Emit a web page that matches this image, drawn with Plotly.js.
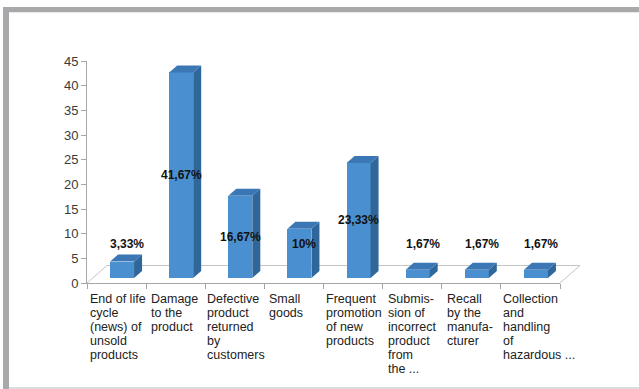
<!DOCTYPE html>
<html>
<head>
<meta charset="utf-8">
<script src="https://cdn.plot.ly/plotly-3.0.1.min.js"></script>
<style>html,body{margin:0;padding:0;background:#fff;}#chart{width:639px;height:389px;}</style>
</head>
<body>
<div id="chart"></div>
<script>
// ---- data ----
const categoryLabels = [
  "End of life<br>cycle<br>(news) of<br>unsold<br>products",
  "Damage<br>to the<br>product",
  "Defective<br>product<br>returned<br>by<br>customers",
  "Small<br>goods",
  "Frequent<br>promotion<br>of new<br>products",
  "Submis-<br>sion of<br>incorrect<br>product<br>from<br>the ...",
  "Recall<br>by the<br>manufa-<br>cturer",
  "Collection<br>and<br>handling<br>of<br>hazardous ..."
];
const values = [3.33, 41.67, 16.67, 10, 23.33, 1.67, 1.67, 1.67];
const valueLabels = ["3,33%", "41,67%", "16,67%", "10%", "23,33%", "1,67%", "1,67%", "1,67%"];
const yTicks = [0, 5, 10, 15, 20, 25, 30, 35, 40, 45];

// ---- geometry / style ----
const W = 639, H = 389;
const PL = 80, PR = 600, PT = 50, PB = 290;      // overall plotting box (px)
const X0 = 87, X1 = 560, Y0 = 283, YTOP = 61;     // front plane of the 3D box
const N = categoryLabels.length;
const YMAX = 45;
const ux = (X1 - X0) / N, uy = (Y0 - YTOP) / YMAX;
const barShift = [5.5, 5];     // bar front face offset into depth (px)
const barDepth = [8, 7];       // bar depth (px)
const floorDepth = [20, 17.5]; // floor depth (px)
const barWidth = 0.406;
const cFront = '#4a8fcf', cTop = '#3b77b4', cSide = '#30679b';
const axisColor = '#a6a6a6', floorColor = '#c4c4c4';
const tickFont = {family: 'Liberation Sans, Arial, sans-serif', size: 13, color: '#3a3a3a'};
const catFont = {family: 'Liberation Sans, Arial, sans-serif', size: 12.5, color: '#222222'};
const lblFont = {family: 'Liberation Sans, Arial, sans-serif', size: 12, color: '#111111', weight: 'bold'};

function xRange(sx) { return [-0.5 + (PL - X0 - sx) / ux, -0.5 + (PR - X0 - sx) / ux]; }
function yRange(sy) { return [(Y0 - sy - PB) / uy, (Y0 - sy - PT) / uy]; }
function px2paperX(p) { return (p - PL) / (PR - PL); }
function px2paperY(p) { return (PB - p) / (PB - PT); }

const idx = values.map((v, i) => i);

// floor outline (left, back, right edges) on x2/y2
const fdx = floorDepth[0] / ux, fdy = floorDepth[1] / uy;
const floorTrace = {
  type: 'scatter', mode: 'lines', xaxis: 'x2', yaxis: 'y2',
  x: [-0.5, -0.5 + fdx, N - 0.5 + fdx, N - 0.5],
  y: [0, fdy, fdy, 0],
  line: {color: floorColor, width: 1}, hoverinfo: 'skip', showlegend: false
};

// bars on x3/y3
const bdx = barDepth[0] / ux, bdy = barDepth[1] / uy, hw = barWidth / 2;
const frontTrace = {
  type: 'bar', xaxis: 'x3', yaxis: 'y3', x: idx, y: values, width: barWidth,
  marker: {color: cFront, line: {width: 0}}, hoverinfo: 'skip', showlegend: false
};
const sx = [], sy = [], tx = [], ty = [];
values.forEach((v, i) => {
  const xl = i - hw, xr = i + hw;
  sx.push(xr, xr + bdx, xr + bdx, xr, xr, null);
  sy.push(0, bdy, v + bdy, v, 0, null);
  tx.push(xl, xr, xr + bdx, xl + bdx, xl, null);
  ty.push(v, v, v + bdy, v + bdy, v, null);
});
const sideTrace = {type: 'scatter', mode: 'lines', xaxis: 'x3', yaxis: 'y3', x: sx, y: sy,
  fill: 'toself', fillcolor: cSide, line: {width: 0, color: cSide}, hoverinfo: 'skip', showlegend: false};
const topTrace = {type: 'scatter', mode: 'lines', xaxis: 'x3', yaxis: 'y3', x: tx, y: ty,
  fill: 'toself', fillcolor: cTop, line: {width: 0, color: cTop}, hoverinfo: 'skip', showlegend: false};

// category labels: one annotation per line, lines left-aligned inside the slot
const canvas = document.createElement('canvas');
const ctx = canvas.getContext('2d');
ctx.font = catFont.size + 'px "Liberation Sans", Arial, sans-serif';
const annotations = [];
categoryLabels.forEach((lab, i) => {
  const lines = lab.split('<br>');
  const maxW = Math.max(...lines.map(l => ctx.measureText(l).width));
  const pad = Math.max(1, Math.min(4, (ux - maxW) / 2));
  lines.forEach((l, j) => {
    annotations.push({
      xref: 'x', yref: 'y', x: i - 0.5, y: 0, text: l, showarrow: false,
      xanchor: 'left', yanchor: 'middle', xshift: pad - 1, yshift: -(16 + j * 14),
      font: catFont, align: 'left'
    });
  });
});
// value labels
values.forEach((v, i) => {
  annotations.push({
    xref: 'x3', yref: 'y3', x: i, y: Math.max(v / 2, 6.9), text: valueLabels[i], showarrow: false,
    xanchor: 'center', yanchor: 'middle', xshift: v / 2 < 6.9 ? 5 : 0, font: lblFont
  });
});

// frame
const shapes = [
  {type: 'rect', xref: 'paper', yref: 'paper', layer: 'below',
   x0: px2paperX(3), x1: px2paperX(W + 5), y0: px2paperY(H + 2), y1: px2paperY(7),
   fillcolor: '#a9a9ab', line: {width: 0}},
  {type: 'rect', xref: 'paper', yref: 'paper', layer: 'below',
   x0: px2paperX(9), x1: px2paperX(W + 5), y0: px2paperY(387), y1: px2paperY(12.3),
   fillcolor: '#ffffff', line: {width: 0}},
  {type: 'rect', xref: 'paper', yref: 'paper', layer: 'below',
   x0: px2paperX(9), x1: px2paperX(W + 5), y0: px2paperY(H + 2), y1: px2paperY(387),
   fillcolor: '#dcdcdc', line: {width: 0}}
];

const hiddenAxis = {showline: false, showgrid: false, zeroline: false, showticklabels: false, ticks: '', fixedrange: true};

const layout = {
  width: W, height: H,
  margin: {l: PL, r: W - PR, t: PT, b: H - PB, pad: 0},
  paper_bgcolor: '#ffffff', plot_bgcolor: 'rgba(0,0,0,0)',
  showlegend: false,
  xaxis: {
    domain: [px2paperX(X0), px2paperX(X1)], range: [-0.5, N - 0.5], anchor: 'y',
    tickvals: idx.concat([N]).map(i => i - 0.5), ticktext: idx.concat([N]).map(() => ''),
    ticks: 'outside', ticklen: 5, tickcolor: axisColor, tickwidth: 1,
    showline: true, linecolor: axisColor, linewidth: 1,
    showgrid: false, zeroline: false, fixedrange: true
  },
  yaxis: {
    domain: [px2paperY(Y0), px2paperY(YTOP)], range: [0, YMAX], anchor: 'x',
    tickvals: yTicks, ticks: 'outside', ticklen: 5, tickcolor: axisColor, tickwidth: 1,
    showline: true, linecolor: axisColor, linewidth: 1, tickfont: tickFont,
    showgrid: false, zeroline: false, fixedrange: true
  },
  xaxis2: Object.assign({domain: [0, 1], range: xRange(0), anchor: 'y2'}, hiddenAxis),
  yaxis2: Object.assign({domain: [0, 1], range: yRange(0), anchor: 'x2'}, hiddenAxis),
  xaxis3: Object.assign({domain: [0, 1], range: xRange(barShift[0]), anchor: 'y3'}, hiddenAxis),
  yaxis3: Object.assign({domain: [0, 1], range: yRange(barShift[1]), anchor: 'x3'}, hiddenAxis),
  annotations: annotations,
  shapes: shapes,
  bargap: 0
};

Plotly.newPlot('chart', [floorTrace, sideTrace, topTrace, frontTrace], layout, {displayModeBar: false, staticPlot: true});
</script>
</body>
</html>
